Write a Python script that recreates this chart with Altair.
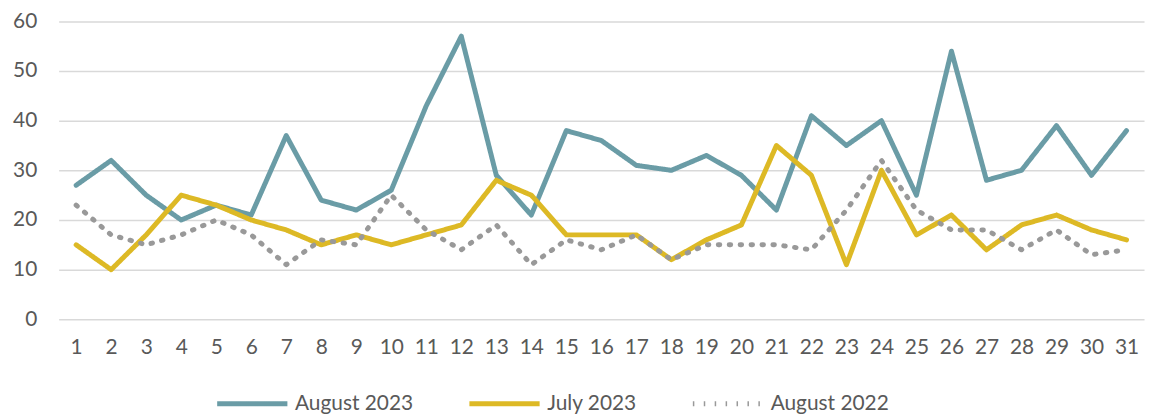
import altair as alt
import pandas as pd

days = list(range(1, 32))
aug_2023 = [27, 32, 25, 20, 23, 21, 37, 24, 22, 26, 43, 57, 29, 21, 38, 36, 31, 30, 33, 29, 22, 41, 35, 40, 25, 54, 28, 30, 39, 29, 38]
jul_2023 = [15, 10, 17, 25, 23, 20, 18, 15, 17, 15, 17, 19, 28, 25, 17, 17, 17, 12, 16, 19, 35, 29, 11, 30, 17, 21, 14, 19, 21, 18, 16]
aug_2022 = [23, 17, 15, 17, 20, 17, 11, 16, 15, 25, 18, 14, 19, 11, 16, 14, 17, 12, 15, 15, 15, 14, 22, 32, 22, 18, 18, 14, 18, 13, 14]
series = ["August 2023", "July 2023", "August 2022"]
colors = ["#6A9CA6", "#DDB925", "#999999"]
dashes = [[1, 0], [1, 0], [1.5, 9.5]]

rows = []
for name, vals in zip(series, [aug_2023, jul_2023, aug_2022]):
    for d, v in zip(days, vals):
        rows.append({"day": d, "value": v, "series": name})
df = pd.DataFrame(rows)

FONT = "Lato"
TXT = "#595959"

chart = alt.Chart(df).mark_line(strokeWidth=5, strokeCap="round", strokeJoin="round").encode(
    x=alt.X("day:O", sort=days, scale=alt.Scale(paddingInner=0, paddingOuter=0.5),
            axis=alt.Axis(title=None, labelAngle=0, domain=False, ticks=False, grid=False,
                          labelPadding=17, labelFontSize=21, labelColor=TXT, labelFont=FONT)),
    y=alt.Y("value:Q", scale=alt.Scale(domain=[0, 60]),
            axis=alt.Axis(title=None, values=[0, 10, 20, 30, 40, 50, 60], domain=False, ticks=False,
                          gridColor="#D9D9D9", gridWidth=1.5, labelPadding=22,
                          labelFontSize=21, labelColor=TXT, labelFont=FONT)),
    color=alt.Color("series:N", sort=series, scale=alt.Scale(domain=series, range=colors),
                    legend=alt.Legend(title=None)),
    strokeDash=alt.StrokeDash("series:N", sort=series, scale=alt.Scale(domain=series, range=dashes),
                              legend=alt.Legend(title=None)),
    detail="series:N",
).properties(
    width=1093, height=300,
    autosize=alt.AutoSizeParams(type="none"),
    padding={"left": 51, "top": 12, "right": 5, "bottom": 110},
).configure_view(stroke=None).configure_legend(
    orient="none", legendX=157, legendY=347, direction="horizontal",
    symbolType="stroke", symbolSize=5000, symbolStrokeWidth=5,
    labelFontSize=21, labelColor=TXT, labelFont=FONT, columnPadding=45,
    labelOffset=5, symbolOffset=0,
)

chart.save("out.html", embed_options={"renderer": "svg", "actions": False})
